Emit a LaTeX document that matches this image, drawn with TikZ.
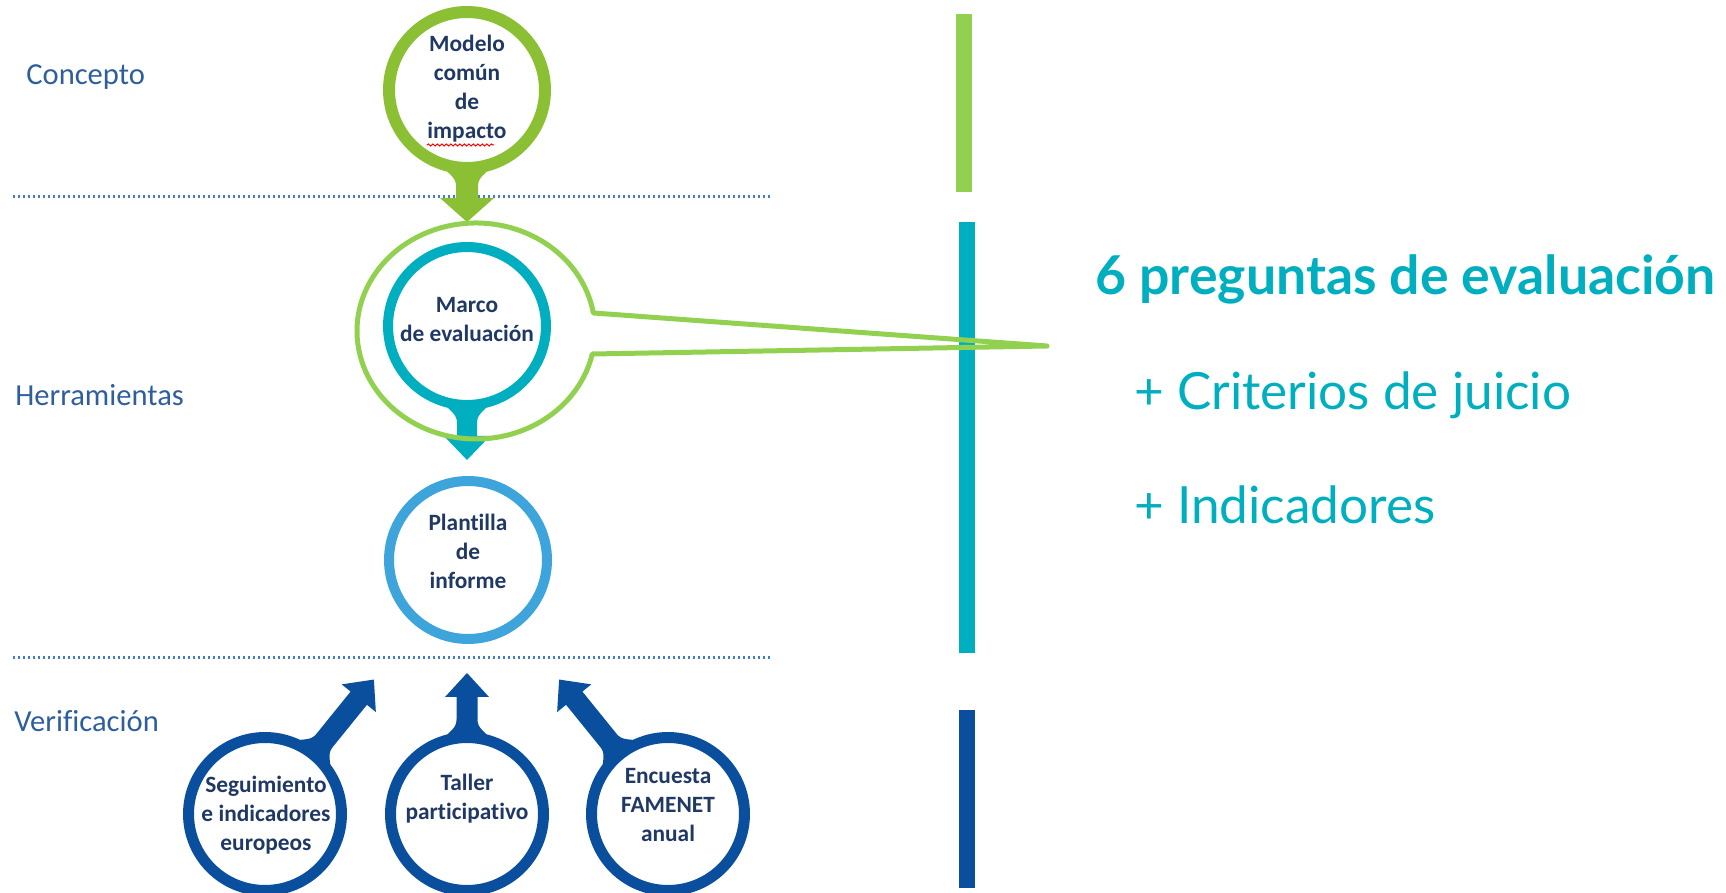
\documentclass[tikz,border=0pt]{standalone}
\usepackage{fontspec}
\setmainfont{Carlito}[Ligatures=NoCommon]
\newfontfamily\latofont{Lato}
\usepackage{tikz}
\usetikzlibrary{positioning,decorations.pathmorphing}

\definecolor{limegreen}{HTML}{8BC034}
\definecolor{calloutgreen}{HTML}{92D050}
\definecolor{tealblue}{HTML}{00AFBF}
\definecolor{skyblue}{HTML}{3DA4DC}
\definecolor{deepblue}{HTML}{0A4F9E}
\definecolor{navytext}{HTML}{1F3864}
\definecolor{labelblue}{HTML}{2E5E9E}
\definecolor{dotblue}{HTML}{4A78C8}

\tikzset{
  ring/.style={circle, draw=#1, line width=2.2mm, minimum size=3.1cm, inner sep=0pt},
  ringtext/.style={align=center, inner sep=0pt, text=navytext, font=\fontsize{13.3}{16.5}\selectfont\bfseries},
  sectlabel/.style={anchor=base west, inner sep=0pt, text=labelblue, font=\fontsize{17.4}{20}\selectfont},
  bigtext/.style={anchor=base west, inner sep=0pt, text=tealblue, font=\latofont\fontsize{29.2}{36}\selectfont},
  sepline/.style={dotblue, line width=0.6mm, dash pattern=on 0.5mm off 0.5mm},
  bar/.style={line width=3.2mm}
}

% stem with arrow head: centre, angle, ring radius, tip distance, colour, neck half width, head half width
\newcommand{\pinstem}[7]{%
  \fill[#5, shift={(#1)}, rotate=#2]
    ({sqrt(#3*#3-(2.6*#6)*(2.6*#6))}, {2.6*#6}) .. controls ({#3+7}, {1.6*#6}) and ({#3+9}, #6) .. ({#3+18}, #6)
    -- ({#4-24}, #6) -- ({#4-24}, #7) -- (#4, 0) -- ({#4-24}, -#7) -- ({#4-24}, -#6) -- ({#3+18}, -#6)
    .. controls ({#3+9}, -#6) and ({#3+7}, {-1.6*#6}) .. ({sqrt(#3*#3-(2.6*#6)*(2.6*#6))}, {-2.6*#6}) -- cycle;}

\begin{document}
\begin{tikzpicture}[x=0.02cm, y=0.02cm]
\useasboundingbox (0,0) rectangle (1726,892);

% separators and level labels
\draw[sepline] (13,695) -- (770,695);
\draw[sepline] (13,234) -- (770,234);
\node[sectlabel] (concepto) at (26,807) {Concepto};
\node[sectlabel] (herramientas) at (15,486) {Herramientas};
\node[sectlabel] (verificacion) at (14,160) {Verificación};

% bars on the right
\draw[bar, calloutgreen] (964,700) -- (964,878);
\draw[bar, tealblue] (967,239) -- (967,670);
\draw[bar, deepblue] (967,4) -- (967,182);

% circles
\node[ring=limegreen, line width=2.4mm, minimum size=3.12cm] (modelo) at (467,802) {};
\node[ring=tealblue, line width=2mm, minimum size=3.16cm] (marco) at (467,566) {};
\node[ring=skyblue, line width=2mm, minimum size=3.16cm] (plantilla) at (468,332) {};
\node[ring=deepblue, minimum size=3.06cm] (seguimiento) at (265,78) {};
\node[ring=deepblue, minimum size=3.06cm] (taller) at (467,78) {};
\node[ring=deepblue, minimum size=3.06cm] (encuesta) at (668,78) {};

\node[ringtext] (modelotxt) at (467,803) {Modelo\\común\\de\\impacto};
\node[ringtext] (marcotxt) at (467,572) {Marco\\de evaluación};
\node[ringtext] (plantillatxt) at (468,341) {Plantilla\\de\\informe};
\node[ringtext] (seguimientotxt) at (266,77) {Seguimiento\\e indicadores\\europeos};
\node[ringtext] (tallertxt) at (467,93) {Taller\\participativo};
\node[ringtext] (encuestatxt) at (668,87) {Encuesta\\FAMENET\\anual};
\draw[red, line width=0.2mm, decorate, decoration={snake, amplitude=0.2mm, segment length=0.9mm}] (427,747) -- (494,747);

% stems
\pinstem{modelo.center}{-90}{78}{132}{limegreen}{11}{27}
\pinstem{marco.center}{-90}{79}{134}{tealblue}{10}{23}
\pinstem{seguimiento.center}{51}{76.5}{173}{deepblue}{10.5}{22}
\pinstem{taller.center}{90}{76.5}{141}{deepblue}{10.5}{22}
\pinstem{encuesta.center}{129}{76.5}{173}{deepblue}{10.5}{22}

% callout round the framework
\coordinate (pointer) at (1047,546);
\draw[calloutgreen, line width=1mm, line join=round] (pointer) -- ([shift={(9.6:119 and 108)}]476,561)
  arc[start angle=9.6, end angle=347.7, x radius=119, y radius=108] -- cycle;

% text on the right
\node[bigtext, font=\latofont\bfseries\fontsize{30.5}{36}\selectfont] (preguntas) at (1095,597) {6 preguntas de evaluación};
\node[bigtext] (criterios) at (1134,482) {+ Criterios de juicio};
\node[bigtext] (indicadores) at (1134,368) {+ Indicadores};
\end{tikzpicture}
\end{document}
